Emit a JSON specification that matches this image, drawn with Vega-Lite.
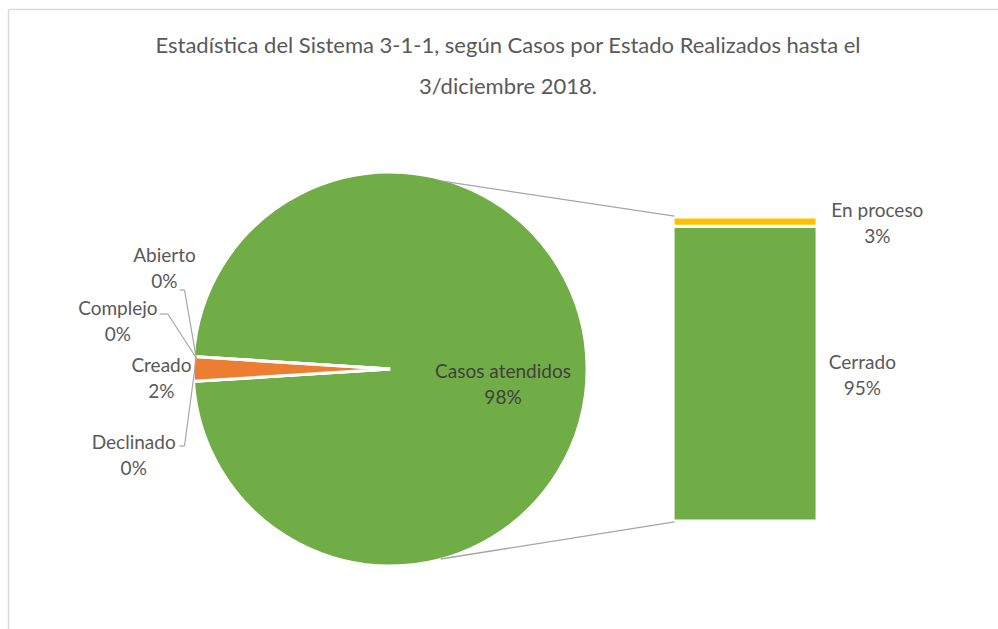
{
  "$schema": "https://vega.github.io/schema/vega-lite/v6.json",
  "width": 990,
  "height": 620,
  "autosize": {"type": "none"},
  "padding": {"left": 8, "top": 9, "right": 0, "bottom": 0},
  "background": "white",
  "config": {
    "view": {"stroke": null},
    "font": "Lato",
    "axis": {"labels": false, "ticks": false, "grid": false, "domainColor": "#d9d9d9", "domainWidth": 1.5},
    "text": {"font": "Lato", "fontSize": 19, "fill": "#595959"},
    "rule": {"color": "#a6a6a6", "strokeWidth": 1.2}
  },
  "title": {
    "text": ["Estadística del Sistema 3-1-1, según Casos por Estado Realizados hasta el", "3/diciembre 2018."],
    "font": "Lato",
    "fontSize": 22,
    "fontWeight": "normal",
    "color": "#595959",
    "lineHeight": 41,
    "anchor": "middle",
    "offset": -90,
    "dx": 5
  },
  "datasets": {
    "circular": [
      {"estado": "Abierto", "valor": 0},
      {"estado": "Casos atendidos", "valor": 0.98},
      {"estado": "Complejo", "valor": 0},
      {"estado": "Creado", "valor": 0.02},
      {"estado": "Declinado", "valor": 0}
    ],
    "barra": [
      {"estado": "Cerrado", "valor": 0.95},
      {"estado": "En proceso", "valor": 0.03}
    ]
  },
  "layer": [
    {
      "data": {"name": "circular"},
      "mark": {"type": "arc", "outerRadius": 197, "stroke": "white", "strokeWidth": 3},
      "encoding": {
        "x": {"datum": 38.48, "type": "quantitative", "scale": {"domain": [0, 100], "nice": false, "zero": false}, "axis": {"orient": "top", "title": null, "labels": false, "ticks": false, "grid": false}},
        "y": {"datum": 0.49, "type": "quantitative", "scale": {"domain": [-0.3482, 1.6505], "nice": false, "zero": false}, "axis": {"orient": "left", "title": null, "labels": false, "ticks": false, "grid": false}},
        "theta": {"field": "valor", "type": "quantitative", "stack": true, "scale": {"range": [4.7752, 11.0584]}},
        "color": {
          "field": "estado", "type": "nominal", "legend": null,
          "scale": {
            "domain": ["Casos atendidos", "Abierto", "Complejo", "Creado", "Declinado", "Cerrado", "En proceso"],
            "range": ["#70ad47", "#4472c4", "#a5a5a5", "#ed7d31", "#5b9bd5", "#70ad47", "#ffc000"]
          }
        },
        "order": {"field": "estado", "sort": "ascending"}
      }
    },
    {
      "data": {"name": "barra"},
      "mark": {"type": "bar", "width": 144, "stroke": "white", "strokeWidth": 3},
      "encoding": {
        "x": {"datum": 74.7, "type": "quantitative"},
        "y": {"field": "valor", "type": "quantitative", "stack": "zero"},
        "color": {"field": "estado", "type": "nominal", "legend": null},
        "order": {"field": "estado", "sort": "ascending"}
      }
    },
    {
      "data": {"name": "circular"},
      "transform": [{"filter": "datum.estado == 'Casos atendidos'"}],
      "layer": [
        {
          "mark": {"type": "rule", "strokeWidth": 1.3},
          "encoding": {
            "x": {"datum": 43.64, "type": "quantitative"},
            "y": {"datum": 1.0961, "type": "quantitative"},
            "x2": {"datum": 67.5},
            "y2": {"datum": 0.983}
          }
        },
        {
          "mark": {"type": "rule", "strokeWidth": 1.3},
          "encoding": {
            "x": {"datum": 43.64, "type": "quantitative"},
            "y": {"datum": -0.1225, "type": "quantitative"},
            "x2": {"datum": 67.5},
            "y2": {"datum": -0.003}
          }
        }
      ]
    },
    {
      "data": {"name": "circular"},
      "transform": [{"filter": "datum.estado == 'Abierto'"}],
      "layer": [
        {
          "mark": "rule",
          "encoding": {
            "x": {"datum": 17.0, "type": "quantitative"},
            "y": {"datum": 0.7447, "type": "quantitative"},
            "x2": {"datum": 17.5},
            "y2": {"datum": 0.7447}
          }
        },
        {
          "mark": "rule",
          "encoding": {
            "x": {"datum": 17.5, "type": "quantitative"},
            "y": {"datum": 0.7447, "type": "quantitative"},
            "x2": {"datum": 18.7},
            "y2": {"datum": 0.5255}
          }
        }
      ]
    },
    {
      "data": {"name": "circular"},
      "transform": [{"filter": "datum.estado == 'Complejo'"}],
      "layer": [
        {
          "mark": "rule",
          "encoding": {
            "x": {"datum": 14.95, "type": "quantitative"},
            "y": {"datum": 0.6673, "type": "quantitative"},
            "x2": {"datum": 15.8},
            "y2": {"datum": 0.6673}
          }
        },
        {
          "mark": "rule",
          "encoding": {
            "x": {"datum": 15.8, "type": "quantitative"},
            "y": {"datum": 0.6673, "type": "quantitative"},
            "x2": {"datum": 18.7},
            "y2": {"datum": 0.5255}
          }
        }
      ]
    },
    {
      "data": {"name": "circular"},
      "transform": [{"filter": "datum.estado == 'Declinado'"}],
      "layer": [
        {
          "mark": "rule",
          "encoding": {
            "x": {"datum": 16.97, "type": "quantitative"},
            "y": {"datum": 0.2418, "type": "quantitative"},
            "x2": {"datum": 17.5},
            "y2": {"datum": 0.2418}
          }
        },
        {
          "mark": "rule",
          "encoding": {
            "x": {"datum": 17.5, "type": "quantitative"},
            "y": {"datum": 0.2418, "type": "quantitative"},
            "x2": {"datum": 18.7},
            "y2": {"datum": 0.5255}
          }
        }
      ]
    },
    {
      "data": {"name": "circular"},
      "transform": [{"filter": "datum.estado == 'Casos atendidos'"}],
      "encoding": {"x": {"datum": 50.0, "type": "quantitative"}, "y": {"datum": 0.4384, "type": "quantitative"}},
      "layer": [
        {"mark": {"type": "text", "dy": -13, "fill": "#404040"}, "encoding": {"text": {"field": "estado"}}},
        {"mark": {"type": "text", "dy": 13, "fill": "#404040"}, "encoding": {"text": {"field": "valor", "format": ".0%"}}}
      ]
    },
    {
      "data": {"name": "circular"},
      "transform": [{"filter": "datum.estado == 'Abierto'"}],
      "encoding": {"x": {"datum": 15.45, "type": "quantitative"}, "y": {"datum": 0.8108, "type": "quantitative"}},
      "layer": [
        {"mark": {"type": "text", "dy": -13}, "encoding": {"text": {"field": "estado"}}},
        {"mark": {"type": "text", "dy": 13}, "encoding": {"text": {"field": "valor", "format": ".0%"}}}
      ]
    },
    {
      "data": {"name": "circular"},
      "transform": [{"filter": "datum.estado == 'Complejo'"}],
      "encoding": {"x": {"datum": 10.7, "type": "quantitative"}, "y": {"datum": 0.6399, "type": "quantitative"}},
      "layer": [
        {"mark": {"type": "text", "dy": -13}, "encoding": {"text": {"field": "estado"}}},
        {"mark": {"type": "text", "dy": 13}, "encoding": {"text": {"field": "valor", "format": ".0%"}}}
      ]
    },
    {
      "data": {"name": "circular"},
      "transform": [{"filter": "datum.estado == 'Creado'"}],
      "encoding": {"x": {"datum": 15.15, "type": "quantitative"}, "y": {"datum": 0.4562, "type": "quantitative"}},
      "layer": [
        {"mark": {"type": "text", "dy": -13}, "encoding": {"text": {"field": "estado"}}},
        {"mark": {"type": "text", "dy": 13}, "encoding": {"text": {"field": "valor", "format": ".0%"}}}
      ]
    },
    {
      "data": {"name": "circular"},
      "transform": [{"filter": "datum.estado == 'Declinado'"}],
      "encoding": {"x": {"datum": 12.32, "type": "quantitative"}, "y": {"datum": 0.2095, "type": "quantitative"}},
      "layer": [
        {"mark": {"type": "text", "dy": -13}, "encoding": {"text": {"field": "estado"}}},
        {"mark": {"type": "text", "dy": 13}, "encoding": {"text": {"field": "valor", "format": ".0%"}}}
      ]
    },
    {
      "data": {"name": "barra"},
      "transform": [{"filter": "datum.estado == 'En proceso'"}],
      "encoding": {"x": {"datum": 88.2, "type": "quantitative"}, "y": {"datum": 0.9558, "type": "quantitative"}},
      "layer": [
        {"mark": {"type": "text", "dy": -13}, "encoding": {"text": {"field": "estado"}}},
        {"mark": {"type": "text", "dy": 13}, "encoding": {"text": {"field": "valor", "format": ".0%"}}}
      ]
    },
    {
      "data": {"name": "barra"},
      "transform": [{"filter": "datum.estado == 'Cerrado'"}],
      "encoding": {"x": {"datum": 86.67, "type": "quantitative"}, "y": {"datum": 0.469, "type": "quantitative"}},
      "layer": [
        {"mark": {"type": "text", "dy": -13}, "encoding": {"text": {"field": "estado"}}},
        {"mark": {"type": "text", "dy": 13}, "encoding": {"text": {"field": "valor", "format": ".0%"}}}
      ]
    }
  ]
}
